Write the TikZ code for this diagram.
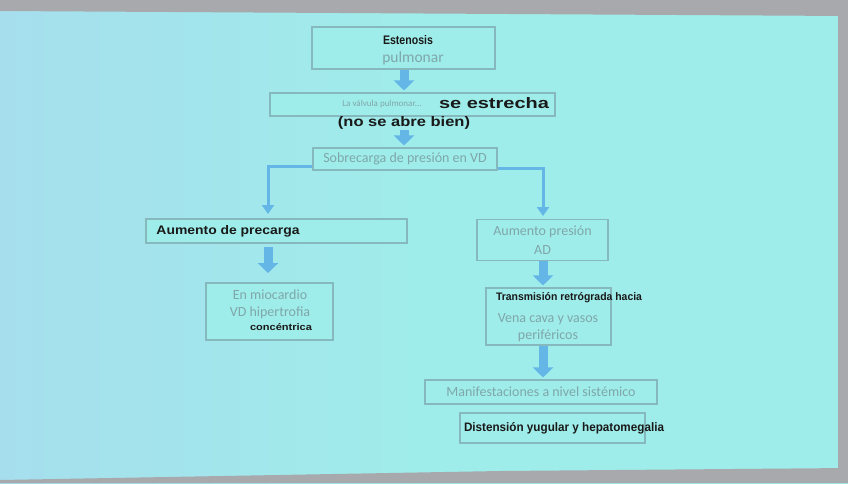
\documentclass[tikz,border=0pt]{standalone}
\usepackage{fontspec}
\setmainfont{Carlito}
\newfontfamily\handf{Liberation Sans}
\usetikzlibrary{arrows.meta}
\definecolor{slide}{HTML}{9FEDEA}
\definecolor{slideL}{HTML}{A6DEED}
\definecolor{frame}{HTML}{A7A9AD}
\definecolor{boxline}{HTML}{86B9BD}
\definecolor{printed}{HTML}{7FA6AA}
\definecolor{arrowblue}{HTML}{63B6E6}
\newcommand\hand[3]{\resizebox{#1pt}{#2pt}{\handf\bfseries #3}}
\tikzset{
  box/.style={draw=boxline, line width=1.1pt, fill=slide, inner sep=0pt, align=center, text=printed, font=\fontsize{14}{19}\selectfont},
  hw/.style={inner sep=0pt, text=black!90},
  pr/.style={inner sep=0pt, text=printed, align=center, font=\fontsize{14}{17}\selectfont},
  block/.style={draw=arrowblue, line width=9pt, -{Triangle[width=20pt,length=10pt]}},
  conn/.style={draw=arrowblue, line width=3pt, -{Triangle[width=12pt,length=9pt]}}
}
\begin{document}
\begin{tikzpicture}[x=1pt,y=-1pt]
\useasboundingbox (0,0) rectangle (848,483);
% slide background
\shade[left color=slideL, right color=slide, middle color=slide] (0,0) rectangle (848,483);
\fill[frame] (0,0) -- (848,0) -- (848,16) -- (0,11) -- cycle;
\fill[frame] (838,0) rectangle (848,483);
\fill[frame] (0,483) -- (848,483) -- (848,468) -- (500,471) -- (0,480) -- cycle;

% boxes
\node[box, minimum width=183pt, minimum height=42pt] (b1) at (403.5,48) {};
\node[box, minimum width=285pt, minimum height=23pt] (b2) at (412.5,104.5) {};
\node[box, minimum width=184pt, minimum height=22pt] (b3) at (405,159) {Sobrecarga de presión en VD};
\node[box, minimum width=261pt, minimum height=24pt] (b4) at (276.5,231) {};
\node[box, minimum width=131pt, minimum height=41pt] (b5) at (542.5,240) {Aumento presión\\AD};
\node[box, minimum width=127pt, minimum height=57pt] (b6) at (269.5,311.5) {};
\node[box, minimum width=125pt, minimum height=57pt] (b7) at (548.5,316.5) {};
\node[box, minimum width=232pt, minimum height=24pt] (b8) at (541,392) {Manifestaciones a nivel sistémico};
\node[box, minimum width=185pt, minimum height=30pt] (b9) at (552.5,428) {};

% texts
\node[hw] (t1a) at (408,40) {\hand{50}{9}{Estenosis}};
\node[pr] (t1b) at (413,58) {\fontsize{15.5}{17}\selectfont pulmonar};
\node[pr] (t2a) at (382,104.5) {\fontsize{9}{10}\selectfont La válvula pulmonar...};
\node[hw] (t2b) at (494,103) {\hand{110}{11}{se estrecha}};
\node[hw] (t2c) at (404,123) {\hand{132}{10}{(no se abre bien)}};
\node[hw] (t4) at (228,231) {\hand{143}{9}{Aumento de precarga}};
\node[pr] (t6a) at (270,304) {En miocardio\\VD hipertrofia};
\node[hw] (t6b) at (281,327) {\hand{62}{7}{concéntrica}};
\node[hw] (t7a) at (569,298) {\hand{146}{8}{Transmisión retrógrada hacia}};
\node[pr] (t7b) at (548,328) {Vena cava y vasos\\periféricos};
\node[hw] (t9) at (564,428) {\hand{200}{9}{Distensión yugular y hepatomegalia}};

% block arrows (vertical)
\coordinate (a1) at (404,0);
\coordinate (a4) at (268,0);
\coordinate (a5) at (543,0);
\coordinate (e6) at (268,273);
\draw[block] (a1 |- b1.south) -- ([yshift=2pt]a1 |- b2.north);
\draw[block] (404,130) -- ([yshift=2pt]a1 |- b3.north);
\draw[block] ([yshift=-3pt]a4 |- b4.south) -- (e6);
\draw[block] (a5 |- b5.south) -- ([yshift=2pt]a5 |- b7.north);
\draw[block] (a5 |- b7.south) -- ([yshift=2pt]a5 |- b8.north);

% elbow connectors
\coordinate (l4) at (268,214);
\coordinate (l5) at (543,216);
\draw[conn] ([yshift=-7pt]b3.west) -| (l4);
\draw[conn] ([yshift=-9pt]b3.east) -| (l5);
\end{tikzpicture}
\end{document}
